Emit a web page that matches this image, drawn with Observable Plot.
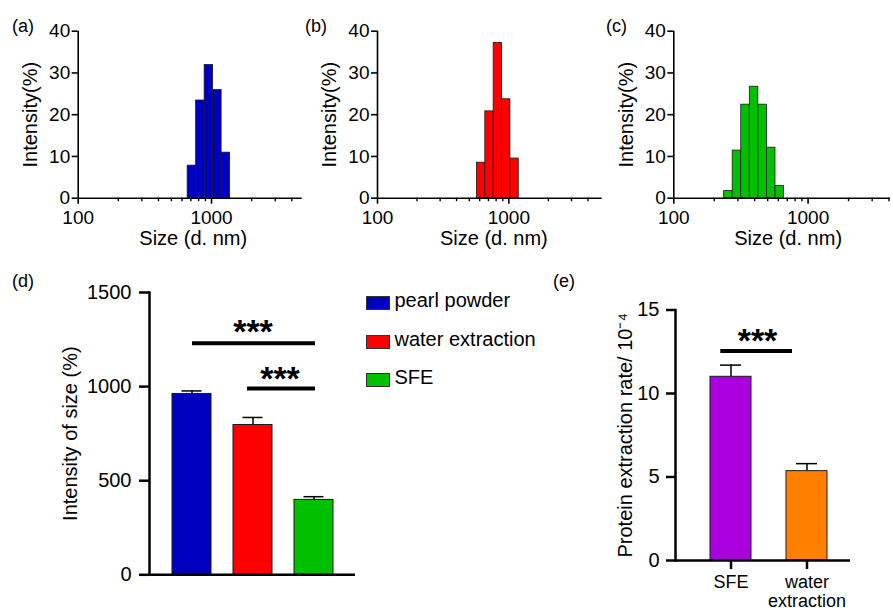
<!DOCTYPE html>
<html><head><meta charset="utf-8">
<script src="https://cdn.jsdelivr.net/npm/d3@7"></script>
<script src="https://cdn.jsdelivr.net/npm/@observablehq/plot@0.6"></script>
<style>
body{margin:0;background:#fff;}
#fig{position:relative;width:893px;height:612px;overflow:hidden;font-family:"Liberation Sans",Arial,Helvetica,sans-serif;color:#000;background:#fff;}
#fig svg{position:absolute;overflow:visible;}
.plab{position:absolute;font-size:18px;line-height:18px;white-space:nowrap;}
.lgsw{position:absolute;width:22px;height:12px;border:1px solid #333;}
.lgtx{position:absolute;font-size:20px;line-height:20px;white-space:nowrap;}
</style></head><body><div id="fig"></div>
<script>
// ---------- data ----------
const binsA = [712.4, 825.0, 955.4, 1106, 1281];
const valuesA = [7.8, 23.4, 31.9, 25.9, 10.9];
const binsB = [615.1, 712.4, 825.0, 955.4, 1106];
const valuesB = [8.5, 20.8, 37.2, 23.7, 9.5];
const binsC = [255.0, 295.3, 342.0, 396.1, 458.7, 531.2, 615.1];
const valuesC = [1.7, 11.4, 22.4, 26.7, 22.4, 12.1, 2.9];
const binRatio = 1.158;
const sizeTicksMajor = [100, 1000];
const sizeTicksMinor = [200, 300, 400, 500, 600, 700, 800, 900, 2000, 3000, 4000];
const intensityTicks = [0, 10, 20, 30, 40];

const groupsD = ["pearl powder", "water extraction", "SFE"];
const meansD = [961, 796, 398];
const errD = [16, 40, 17];
const colorsD = ["#0000c0", "#ff0000", "#00c000"];
const ticksD = [0, 500, 1000, 1500];
const sigD = [
  {from: "pearl powder", to: "SFE", y: 1231, label: "***"},
  {from: "water extraction", to: "SFE", y: 990, label: "***"}
];

const groupsE = ["SFE", "water extraction"];
const meansE = [11.0, 5.35];
const errE = [0.7, 0.45];
const colorsE = ["#aa00dd", "#ff8000"];
const ticksE = [0, 5, 10, 15];
const sigE = [{from: "SFE", to: "water extraction", y: 12.54, label: "***"}];

const panelLabels = ["(a)", "(b)", "(c)", "(d)", "(e)"];

// ---------- drawing ----------
const FONT = '"Liberation Sans", Arial, Helvetica, sans-serif';
const fig = document.getElementById("fig");
const half = Math.sqrt(binRatio);
const plain = d => String(d);

function place(el, left, top) {
  el.style.left = left + "px";
  el.style.top = top + "px";
  fig.append(el);
}

function yLabel(text, offset) {
  return Plot.text([text], {frameAnchor: "left", textAnchor: "middle", lineAnchor: "middle", rotate: -90, dx: -offset, fontSize: 20});
}

function histogram(bins, values, color, o) {
  const rows = bins.map((s, i) => ({lo: s / half, hi: s * half, v: values[i]}));
  const svg = Plot.plot({
    width: o.width, height: 260,
    marginLeft: o.mL, marginRight: o.mR, marginTop: 30.7, marginBottom: 62.3,
    style: {fontFamily: FONT, background: "none", overflow: "visible", color: "#000"},
    x: {type: "log", domain: [100, o.xmax]},
    y: {domain: [0, 40]},
    marks: [
      Plot.rectY(rows, {x1: "lo", x2: "hi", y: "v", fill: color, stroke: "#1a1a1a", strokeWidth: 0.8}),
      Plot.ruleY([0], {strokeWidth: 1.6}),
      Plot.ruleX([100], {strokeWidth: 1.6}),
      Plot.axisY({ticks: intensityTicks, tickSize: 6, tickPadding: 2, strokeWidth: 1.6, fontSize: 19, tickFormat: plain, label: null}),
      Plot.axisX({ticks: sizeTicksMinor, tickSize: 3.5, strokeWidth: 1.4, tickFormat: () => "", label: null}),
      Plot.axisX({ticks: sizeTicksMajor, tickSize: 6, tickPadding: 6, strokeWidth: 1.6, fontSize: 19, tickFormat: plain, label: null}),
      yLabel("Intensity(%)", 47.5),
      Plot.text(["Size (d. nm)"], {frameAnchor: "bottom", textAnchor: "middle", lineAnchor: "middle", dx: o.labelDx, dy: 40.5, fontSize: 20})
    ]
  });
  place(svg, o.left, 0);
}

histogram(binsA, valuesA, colorsD[0], {left: 0, width: 305, mL: 77.7, mR: 3.3, xmax: 4786, labelDx: 3});
histogram(binsB, valuesB, colorsD[1], {left: 300, width: 305, mL: 77, mR: 3.3, xmax: 5140, labelDx: 4});
histogram(binsC, valuesC, colorsD[2], {left: 596, width: 297, mL: 77.3, mR: 3, xmax: 4107, labelDx: 6});

// panel d
const rowsD = groupsD.map((g, i) => ({g, m: meansD[i], top: meansD[i] + errD[i]}));
const svgD = Plot.plot({
  width: 560, height: 352,
  marginLeft: 149, marginRight: 205, marginTop: 32, marginBottom: 37.7,
  style: {fontFamily: FONT, background: "none", overflow: "visible", color: "#000"},
  x: {type: "band", domain: groupsD, paddingInner: 0.366, paddingOuter: 0.35, axis: null},
  y: {domain: [0, 1500]},
  color: {domain: groupsD, range: colorsD},
  marks: [
    Plot.ruleX(rowsD, {x: "g", y1: "m", y2: "top", strokeWidth: 1.5}),
    Plot.tickY(rowsD, {x: "g", y: "top", insetLeft: 9.5, insetRight: 9.5, strokeWidth: 1.5}),
    Plot.barY(rowsD, {x: "g", y: "m", fill: "g", stroke: "#1a1a1a", strokeWidth: 1}),
    Plot.frame({anchor: "left", strokeWidth: 2.5}),
    Plot.ruleY([0], {strokeWidth: 2.5}),
    Plot.axisY({ticks: ticksD, tickSize: 10, tickPadding: 8, strokeWidth: 2.5, fontSize: 20, tickFormat: plain, label: null}),
    Plot.ruleY([sigD[0]], {x1: "from", x2: "to", y: "y", insetLeft: 20, insetRight: 18, strokeWidth: 4}),
    Plot.ruleY([sigD[1]], {x1: "from", x2: "to", y: "y", insetLeft: 14, insetRight: 18, strokeWidth: 4}),
    Plot.text([sigD[0]], {x: "to", y: "y", dx: -61, dy: -24, lineAnchor: "top", text: "label", fontSize: 34, fontWeight: "bold"}),
    Plot.text([sigD[1]], {x: "to", y: "y", dx: -34, dy: -23, lineAnchor: "top", text: "label", fontSize: 34, fontWeight: "bold"}),
    yLabel("Intensity of size (%)", 78.6)
  ]
});
place(svgD, 0, 260);

// legend for d
groupsD.forEach((g, i) => {
  const sw = document.createElement("div");
  sw.className = "lgsw";
  sw.style.background = colorsD[i];
  place(sw, 366, 296 + i * 38.5);
  const tx = document.createElement("div");
  tx.className = "lgtx";
  tx.textContent = g;
  place(tx, 394.5, 290 + i * 38.5);
});

// panel e
const rowsE = groupsE.map((g, i) => ({g, m: meansE[i], top: meansE[i] + errE[i]}));
const svgE = Plot.plot({
  width: 333, height: 352,
  marginLeft: 115, marginRight: 43, marginTop: 49.5, marginBottom: 52,
  style: {fontFamily: FONT, background: "none", overflow: "visible", color: "#000"},
  x: {type: "band", domain: groupsE, paddingInner: 0.465, paddingOuter: 0.375, align: 0.6},
  y: {domain: [0, 15]},
  color: {domain: groupsE, range: colorsE},
  marks: [
    Plot.ruleX(rowsE, {x: "g", y1: "m", y2: "top", strokeWidth: 1.5}),
    Plot.tickY(rowsE, {x: "g", y: "top", insetLeft: 10, insetRight: 10, strokeWidth: 1.5}),
    Plot.barY(rowsE, {x: "g", y: "m", fill: "g", stroke: "#1a1a1a", strokeWidth: 1}),
    Plot.frame({anchor: "left", strokeWidth: 2.5}),
    Plot.ruleY([0], {strokeWidth: 2.5}),
    Plot.axisY({ticks: ticksE, tickSize: 9, tickPadding: 7, strokeWidth: 2.5, fontSize: 20, tickFormat: plain, label: null}),
    Plot.axisX({tickSize: 9, tickPadding: 4, strokeWidth: 2.5, fontSize: 18, lineHeight: 1.1, tickFormat: d => d.replace(" ", "\n"), label: null}),
    Plot.ruleY(sigE, {x1: "from", x2: "to", y: "y", insetLeft: 10.3, insetRight: 35, strokeWidth: 4}),
    Plot.text(sigE, {x: "from", y: "y", dx: 26.5, dy: -23, lineAnchor: "top", text: "label", fontSize: 34, fontWeight: "bold"}),
    yLabel("Protein extraction rate/ 10\u207B\u2074", 50)
  ]
});
place(svgE, 560, 260);

// panel letters
const labelPos = [[12, 17], [305, 17], [606, 17], [12, 272], [553, 272]];
panelLabels.forEach((t, i) => {
  const d = document.createElement("div");
  d.className = "plab";
  d.textContent = t;
  place(d, labelPos[i][0], labelPos[i][1]);
});
</script>
</body></html>
